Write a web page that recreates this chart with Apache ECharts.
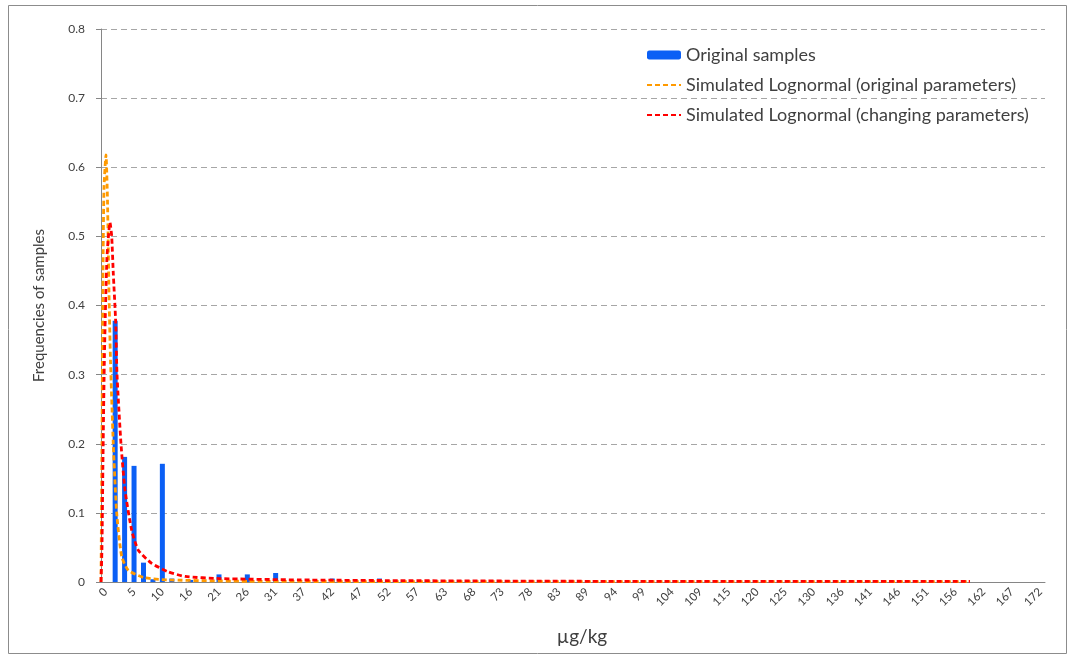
<!DOCTYPE html>
<html>
<head>
<meta charset="utf-8">
<script src="https://cdn.jsdelivr.net/npm/echarts@6/dist/echarts.min.js"></script>
<style>
html,body{margin:0;padding:0;background:#fff;}
#chart{width:1074px;height:657px;}
</style>
</head>
<body>
<div id="chart"></div>
<script>
// x-axis tick labels (shown on every third bin)
var tickLabels = ['0','5','10','16','21','26','31','37','42','47','52','57','63','68','73','78','83','89','94','99','104','109','115','120','125','130','136','141','146','151','156','162','167','172'];

// frequencies of original samples per bin (100 bins)
var barValues = [
  0, 0.378, 0.181, 0.168, 0.028, 0.004, 0.171, 0.005, 0, 0.003,
  0, 0, 0.011, 0, 0, 0.011, 0, 0, 0.013, 0,
  0, 0, 0, 0, 0.005, 0, 0, 0, 0, 0.005,
  0, 0, 0, 0, 0, 0, 0, 0, 0, 0,
  0, 0, 0, 0, 0, 0, 0, 0, 0, 0,
  0, 0, 0, 0, 0, 0, 0, 0, 0, 0,
  0, 0, 0, 0, 0, 0, 0, 0, 0, 0,
  0, 0, 0, 0, 0, 0, 0, 0, 0, 0,
  0, 0, 0, 0, 0, 0, 0, 0, 0, 0,
  0, 0, 0, 0, 0, 0, 0, 0, 0, 0
];

// simulated lognormal (original parameters), µg/kg vs frequency
var orangeX = [0, 0.18, 0.37, 0.55, 0.92, 1.2, 1.47, 1.75, 2.26, 2.89, 3.81, 5.03, 8.1, 12.7, 27.4, 60, 100, 160];
var orangeY = [0, 0.2, 0.45, 0.57, 0.618, 0.55, 0.42, 0.32, 0.2, 0.1, 0.037, 0.017, 0.006, 0.003, 0.001, 0.0006, 0.0005, 0.0005];

// simulated lognormal (changing parameters)
var redX = [0, 0.18, 0.37, 0.64, 1.1, 1.66, 1.97, 2.26, 2.71, 2.95, 3.68, 4.42, 5.65, 6.87, 9.33, 12.3, 15.5, 21.9, 36.6, 55, 92, 160];
var redY = [0, 0.05, 0.18, 0.33, 0.47, 0.52, 0.5, 0.447, 0.375, 0.3, 0.2, 0.133, 0.075, 0.046, 0.027, 0.015, 0.008, 0.005, 0.003, 0.002, 0.001, 0.0008];

var nBins = barValues.length;
var categories = [];
for (var i = 0; i < nBins; i++) categories.push(String(i));
var binWidth = 1.7381; // µg/kg per bin
var orangeData = orangeX.map(function(x, i){ return [x, orangeY[i]]; });
var redData = redX.map(function(x, i){ return [x, redY[i]]; });

var FONT = 'Lato, "Open Sans", sans-serif';
var chart = echarts.init(document.getElementById('chart'), null, {renderer: 'canvas'});
chart.setOption({
  backgroundColor: '#fff',
  animation: false,
  textStyle: {fontFamily: FONT},
  grid: {left: 101, right: 29, top: 29, bottom: 75, containLabel: false},
  graphic: [{
    type: 'rect', silent: true, z: -10,
    shape: {x: 8.5, y: 5.5, width: 1058, height: 648},
    style: {fill: 'none', stroke: '#8c8c8c', lineWidth: 1}
  }],
  legend: {
    orient: 'vertical', left: 641, top: 41,
    itemWidth: 34, itemHeight: 9, itemGap: 12,
    textStyle: {fontSize: 18, color: '#404040', fontFamily: FONT},
    data: [
      {name: 'Original samples'},
      {name: 'Simulated Lognormal (original parameters)', itemStyle: {opacity: 0}},
      {name: 'Simulated Lognormal (changing parameters)', itemStyle: {opacity: 0}}
    ]
  },
  xAxis: [{
    type: 'category', data: categories, boundaryGap: true,
    name: 'µg/kg', nameLocation: 'middle', nameGap: 45,
    nameTextStyle: {fontSize: 19, color: '#404040', fontFamily: FONT, padding: [0, 0, 0, 18]},
    axisLine: {lineStyle: {color: '#868686', width: 1}},
    axisTick: {show: false},
    axisLabel: {
      interval: 2, rotate: 45, fontSize: 11.5, color: '#404040', margin: 8,
      formatter: function(v, idx){ return idx % 3 === 0 ? tickLabels[idx / 3] : ''; }
    },
    splitLine: {show: false}
  }, {
    type: 'value', min: 0, max: binWidth * nBins, show: false, position: 'bottom'
  }],
  yAxis: {
    type: 'value', min: 0, max: 0.8, interval: 0.1,
    name: 'Frequencies of samples', nameLocation: 'middle', nameGap: 54, nameRotate: 90,
    nameTextStyle: {fontSize: 15, color: '#404040', fontFamily: FONT},
    axisLine: {show: true, lineStyle: {color: '#868686', width: 1}},
    axisTick: {show: true, length: 5, lineStyle: {color: '#868686'}},
    axisLabel: {fontSize: 12, color: '#404040', margin: 16,
      formatter: function(v){ return v === 0 ? '0' : v.toFixed(1); }},
    splitLine: {show: true, lineStyle: {color: '#a6a6a6', type: [6, 4], width: 1}}
  },
  series: [{
    name: 'Original samples', type: 'bar', xAxisIndex: 0,
    data: barValues, barWidth: 5,
    itemStyle: {color: '#0b5ff5'}
  }, {
    name: 'Simulated Lognormal (original parameters)', type: 'line', xAxisIndex: 1,
    data: orangeData, showSymbol: false, symbol: 'none', smooth: 0.2,
    itemStyle: {color: '#ff9a00'},
    lineStyle: {color: '#ff9a00', width: 2.8, type: [5, 3]},
    z: 3
  }, {
    name: 'Simulated Lognormal (changing parameters)', type: 'line', xAxisIndex: 1,
    data: redData, showSymbol: false, symbol: 'none', smooth: 0.2,
    itemStyle: {color: '#ff0000'},
    lineStyle: {color: '#ff0000', width: 2.8, type: [5, 3]},
    z: 4
  }]
});
</script>
</body>
</html>
